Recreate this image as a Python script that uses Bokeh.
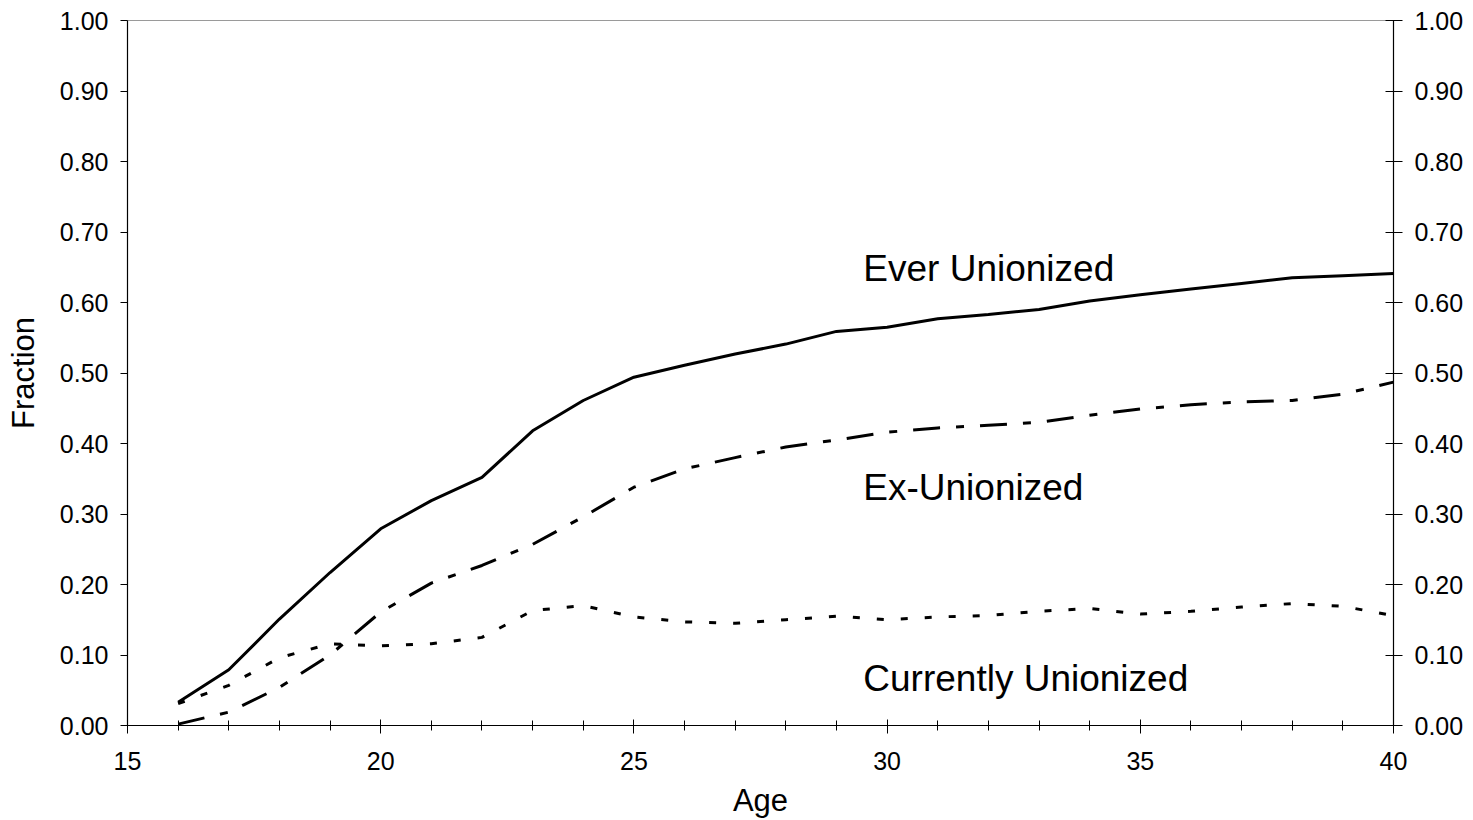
from bokeh.plotting import figure
from bokeh.models import Range1d, LinearAxis, SingleIntervalTicker, NumeralTickFormatter, FixedTicker
from bokeh.core.properties import value
from bokeh.embed import file_html
from bokeh.resources import INLINE

ages = list(range(16, 41))
ever_unionized = [0.033, 0.079, 0.151, 0.217, 0.279, 0.319, 0.352, 0.418, 0.461, 0.494,
                  0.511, 0.527, 0.541, 0.559, 0.565, 0.577, 0.583, 0.590, 0.602, 0.611,
                  0.619, 0.627, 0.635, 0.638, 0.641]
ex_unionized = [0.002, 0.019, 0.054, 0.100, 0.161, 0.202, 0.227, 0.257, 0.296, 0.338,
                0.364, 0.380, 0.395, 0.405, 0.416, 0.422, 0.426, 0.430, 0.440, 0.449,
                0.455, 0.459, 0.461, 0.470, 0.487]
currently_unionized = [0.031, 0.057, 0.096, 0.116, 0.113, 0.116, 0.125, 0.163, 0.170, 0.154,
                       0.147, 0.145, 0.150, 0.155, 0.150, 0.154, 0.156, 0.162, 0.166, 0.158,
                       0.162, 0.168, 0.173, 0.169, 0.156]
label_texts = ["Ever Unionized", "Ex-Unionized", "Currently Unionized"]
label_x = [29.53, 29.53, 29.53]
label_y = [0.648, 0.338, 0.067]
y_ticks = [0.0, 0.1, 0.2, 0.3, 0.4, 0.5, 0.6, 0.7, 0.8, 0.9, 1.0]

FONT = "Liberation Sans"

p = figure(frame_width=1266, frame_height=705,
           min_border_left=127, min_border_right=72, min_border_top=20, min_border_bottom=87,
           x_range=Range1d(15, 40), y_range=Range1d(0, 1),
           output_backend="svg", toolbar_location=None, tools="")
p.background_fill_color = "white"
p.border_fill_color = "white"
p.outline_line_color = "#9a9a9a"
p.outline_line_width = 1
p.xgrid.grid_line_color = None
p.ygrid.grid_line_color = None

xa = p.xaxis[0]
xa.ticker = SingleIntervalTicker(interval=5, num_minor_ticks=5)
xa.axis_label = "Age"
xa.major_tick_in = 6
xa.major_tick_out = 8
xa.minor_tick_in = 5
xa.minor_tick_out = 5
xa.major_label_standoff = 18
xa.axis_label_standoff = 10

ya = p.yaxis[0]
ya.axis_label = "Fraction"
ya.major_tick_in = 0
ya.major_tick_out = 7
ya.major_label_standoff = 12
ya.axis_label_standoff = 16

ra = LinearAxis()
ra.major_tick_in = 8
ra.major_tick_out = 9
ra.major_label_standoff = 12
p.add_layout(ra, "right")

for ax in [xa, ya, ra]:
    ax.axis_line_color = "black"
    ax.axis_line_width = 1.2
    ax.major_tick_line_color = "black"
    ax.minor_tick_line_color = "black"
    ax.major_label_text_font = FONT
    ax.major_label_text_font_size = "25px"
    ax.major_label_text_color = "black"
    ax.axis_label_text_font = FONT
    ax.axis_label_text_font_size = "31px"
    ax.axis_label_text_font_style = "normal"
    ax.axis_label_text_color = "black"
for ax in [ya, ra]:
    ax.ticker = FixedTicker(ticks=y_ticks)
    ax.formatter = NumeralTickFormatter(format="0.00")
    ax.minor_tick_line_color = None
ya.major_label_orientation = "horizontal"

p.line(ages, ever_unionized, line_color="black", line_width=3)
p.line(ages, ex_unionized, line_color="black", line_width=3, line_dash="27 16 8 16", line_cap="butt")
p.line(ages, currently_unionized, line_color="black", line_width=3, line_dash="7 17", line_cap="butt")

p.text(x=label_x, y=label_y, text=label_texts, text_font=value(FONT), text_font_size="37px",
       text_color="black", text_baseline="alphabetic", text_align="left")

open("out.html", "w").write(file_html(p, INLINE))
